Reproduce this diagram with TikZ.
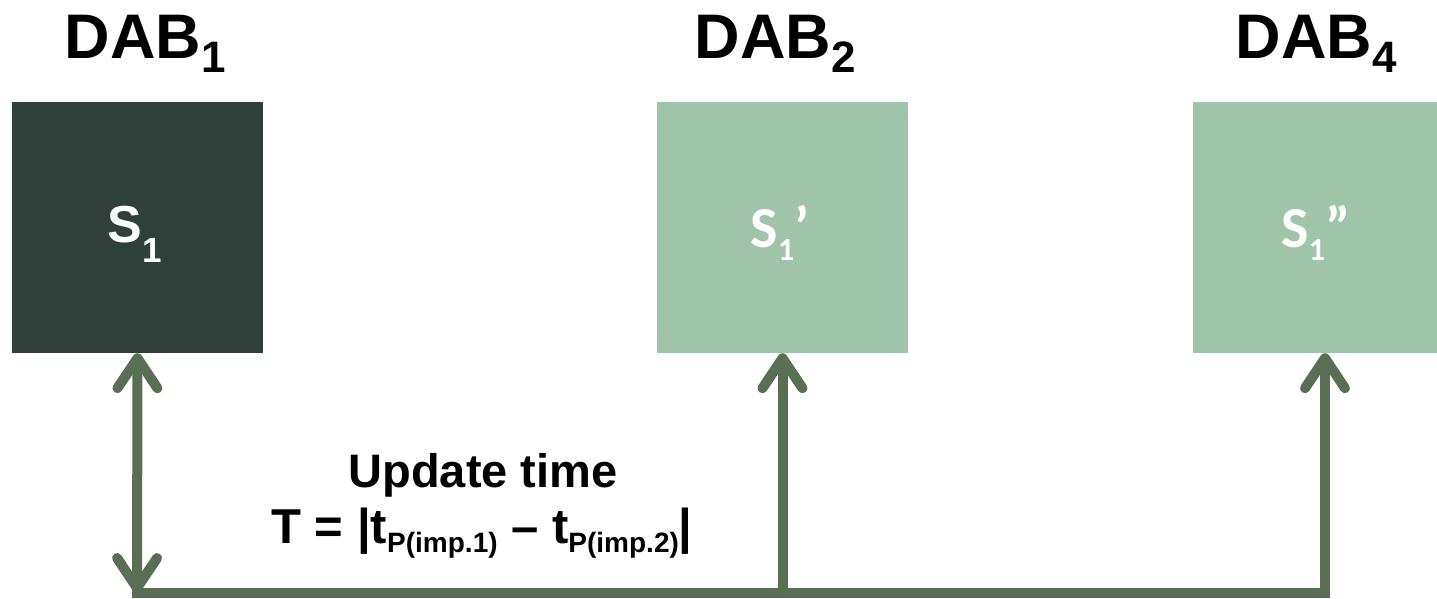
\documentclass[tikz,border=0pt]{standalone}
\usepackage{fontspec}
\setmainfont{Liberation Sans}
\newfontfamily\calfont{Carlito}
\usetikzlibrary{arrows.meta}

\definecolor{darkbox}{RGB}{47,64,58}
\definecolor{lightbox}{RGB}{160,196,170}
\definecolor{linkgreen}{RGB}{90,110,85}

% subscript helper: raised by #1, set at size #2
\newcommand{\lowsub}[3]{\raisebox{#1}{\fontsize{#2}{#2}\selectfont #3}}

\tikzset{
  dabbox/.style={rectangle, minimum width=251pt, minimum height=251pt, inner sep=0pt, draw=none},
  heading/.style={anchor=base, inner sep=0pt, font=\bfseries\fontsize{63}{63}\selectfont},
  boxlabel/.style={anchor=base, inner sep=0pt, text=white},
  link/.style={draw=linkgreen, line width=10pt},
  barb/.style={-{Straight Barb[length=30pt,width=40pt,round]}},
  dbarb/.style={{Straight Barb[length=30pt,width=40pt,round]}-{Straight Barb[length=30pt,width=40pt,round]}}
}

\begin{document}
\begin{tikzpicture}[x=1pt,y=-1pt]
\useasboundingbox (0,0) rectangle (1437,598);
\begin{scope}
\clip (0,0) rectangle (1437,598);

% boxes
\node[dabbox, fill=darkbox]  (b1) at (137.5,227.5) {};
\node[dabbox, fill=lightbox] (b2) at (782.5,227.5) {};
\node[dabbox, fill=lightbox] (b3) at (1318.5,227.5) {};

% headings
\node[heading] (h1) at (145,58) {DAB\lowsub{-14pt}{44pt}{1}};
\node[heading] (h2) at (775,58) {DAB\lowsub{-14pt}{44pt}{2}};
\node[heading] (h4) at (1316,58) {DAB\lowsub{-14pt}{44pt}{4}};

% labels inside the boxes
\node[boxlabel, font=\bfseries\fontsize{52}{52}\selectfont] (s1) at (135,242) {S\lowsub{-20pt}{35pt}{1}};
\node[boxlabel, font=\calfont\bfseries\fontsize{58}{58}\selectfont] (s2) at (780,247) {S\lowsub{-13pt}{32pt}{1}’};
\node[boxlabel, font=\calfont\bfseries\fontsize{58}{58}\selectfont] (s3) at (1316,247) {S\lowsub{-13pt}{32pt}{1}”};

% update-time formula
\node[anchor=base, inner sep=0pt, font=\bfseries\fontsize{47}{47}\selectfont] (ut) at (483,487) {Update time};
\node[anchor=base, inner sep=0pt, font=\bfseries\fontsize{49}{49}\selectfont] (tf) at (482,543)
  {T = |t\lowsub{-9pt}{28pt}{P(imp.1)} – t\lowsub{-9pt}{28pt}{P(imp.2)}|};

% bus and arrows
\coordinate (j1) at (137,593);
\coordinate (j2) at (782.5,593);
\coordinate (j3) at (1325,593);

\draw[link, line cap=rect] (j1) -- (j3);
\draw[link, dbarb] (j1) -- (b1.south);
\draw[link, barb] (j2) -- (b2.south);
\draw[link, barb] (j3) -- (b3.south -| j3);
\end{scope}
\end{tikzpicture}
\end{document}
